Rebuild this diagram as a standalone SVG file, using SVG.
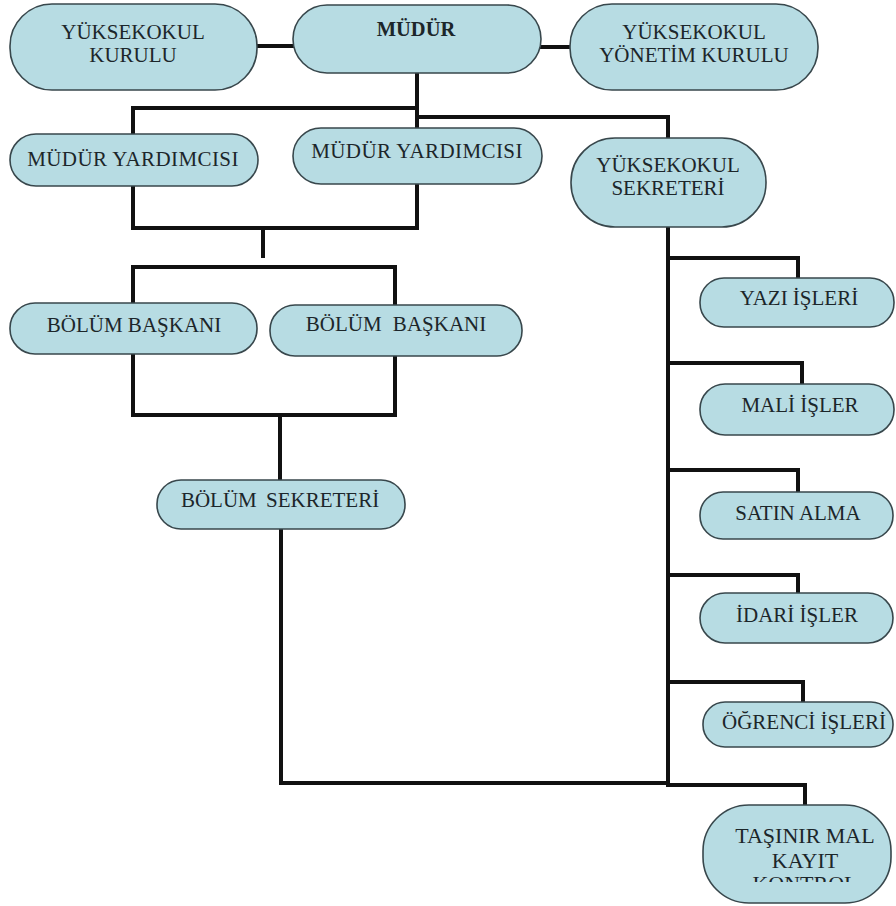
<svg xmlns="http://www.w3.org/2000/svg" width="896" height="906" viewBox="0 0 896 906">
<defs>
<style>
.box{fill:#b7dce3;stroke:#38474c;stroke-width:1.6}
.t{font-family:'Liberation Serif','Times New Roman',serif;font-size:21px;fill:#1c262a;text-anchor:middle}
.b{font-weight:bold;font-size:20.5px}
.l{font-size:22px}
.c{fill:none;stroke:#111;stroke-width:4;stroke-linejoin:miter;stroke-linecap:square}
</style>
<clipPath id="clipT"><rect x="700" y="800" width="196" height="82"/></clipPath>
</defs>
<rect width="896" height="906" fill="#fff"/>
<g id="connectors">
<path class="c" d="M257,46 H293"/>
<path class="c" d="M541,47 H570"/>
<path class="c" d="M417,73 V128"/>
<path class="c" d="M133,134 V108 H417"/>
<path class="c" d="M417,117 H668 V138"/>
<path class="c" d="M133,186 V228 H417 V184"/>
<path class="c" d="M263,228 V256"/>
<path class="c" d="M133,303 V267 H395 V305"/>
<path class="c" d="M133,354 V415 H395 V356"/>
<path class="c" d="M280,415 V480"/>
<path class="c" d="M281,529 V783 H668"/>
<path class="c" d="M668,227 V785 H805 V805"/>
<path class="c" d="M668,258 H798 V278"/>
<path class="c" d="M668,363 H802 V384"/>
<path class="c" d="M668,470 H798 V492"/>
<path class="c" d="M668,575 H798 V593"/>
<path class="c" d="M668,682 H803 V702"/>
</g>
<g id="yuksekokul-kurulu">
<rect class="box" x="10" y="4" width="247" height="86" rx="42" ry="42"/>
<text class="t" x="133" y="39">YÜKSEKOKUL</text>
<text class="t" x="133" y="62">KURULU</text>
</g>
<g id="mudur">
<rect class="box" x="293" y="5" width="248" height="68" rx="34" ry="34"/>
<text class="t b" x="416" y="36">MÜDÜR</text>
</g>
<g id="yuksekokul-yonetim-kurulu">
<rect class="box" x="570" y="4" width="248" height="86" rx="42" ry="42"/>
<text class="t" x="694" y="39">YÜKSEKOKUL</text>
<text class="t" x="694" y="62">YÖNETİM KURULU</text>
</g>
<g id="mudur-yardimcisi-1">
<rect class="box" x="10" y="134" width="248" height="52" rx="26" ry="26"/>
<text class="t" x="133" y="166" letter-spacing="0.4">MÜDÜR YARDIMCISI</text>
</g>
<g id="mudur-yardimcisi-2">
<rect class="box" x="293" y="128" width="249" height="56" rx="28" ry="28"/>
<text class="t" x="417" y="158" letter-spacing="0.4">MÜDÜR YARDIMCISI</text>
</g>
<g id="yuksekokul-sekreteri">
<rect class="box" x="571" y="138" width="195" height="89" rx="44" ry="44"/>
<text class="t" x="668" y="172">YÜKSEKOKUL</text>
<text class="t" x="668" y="195">SEKRETERİ</text>
</g>
<g id="bolum-baskani-1">
<rect class="box" x="10" y="303" width="247" height="51" rx="25" ry="25"/>
<text class="t" x="134" y="332">BÖLÜM BAŞKANI</text>
</g>
<g id="bolum-baskani-2">
<rect class="box" x="270" y="305" width="252" height="51" rx="25" ry="25"/>
<text class="t" x="396" y="331" word-spacing="6">BÖLÜM BAŞKANI</text>
</g>
<g id="bolum-sekreteri">
<rect class="box" x="157" y="480" width="248" height="49" rx="24" ry="24"/>
<text class="t" x="280" y="507" word-spacing="4">BÖLÜM SEKRETERİ</text>
</g>
<g id="yazi-isleri">
<rect class="box" x="700" y="278" width="194" height="49" rx="24" ry="24"/>
<text class="t" x="799" y="305">YAZI İŞLERİ</text>
</g>
<g id="mali-isler">
<rect class="box" x="700" y="384" width="194" height="51" rx="25" ry="25"/>
<text class="t" x="800" y="412">MALİ İŞLER</text>
</g>
<g id="satin-alma">
<rect class="box" x="700" y="492" width="193" height="47" rx="23" ry="23"/>
<text class="t" x="798" y="520">SATIN ALMA</text>
</g>
<g id="idari-isler">
<rect class="box" x="700" y="593" width="193" height="50" rx="25" ry="25"/>
<text class="t" x="797" y="622">İDARİ İŞLER</text>
</g>
<g id="ogrenci-isleri">
<rect class="box" x="703" y="702" width="190" height="45" rx="22" ry="22"/>
<text class="t" x="804" y="729">ÖĞRENCİ İŞLERİ</text>
</g>
<g id="tasinir-mal-kayit-kontrol">
<rect class="box" x="703" y="805" width="188" height="98" rx="46" ry="46"/>
<text class="t l" x="805" y="843">TAŞINIR MAL</text>
<text class="t l" x="805" y="868">KAYIT</text>
<text class="t l" x="805" y="891" clip-path="url(#clipT)">KONTROL</text>
</g>
</svg>
